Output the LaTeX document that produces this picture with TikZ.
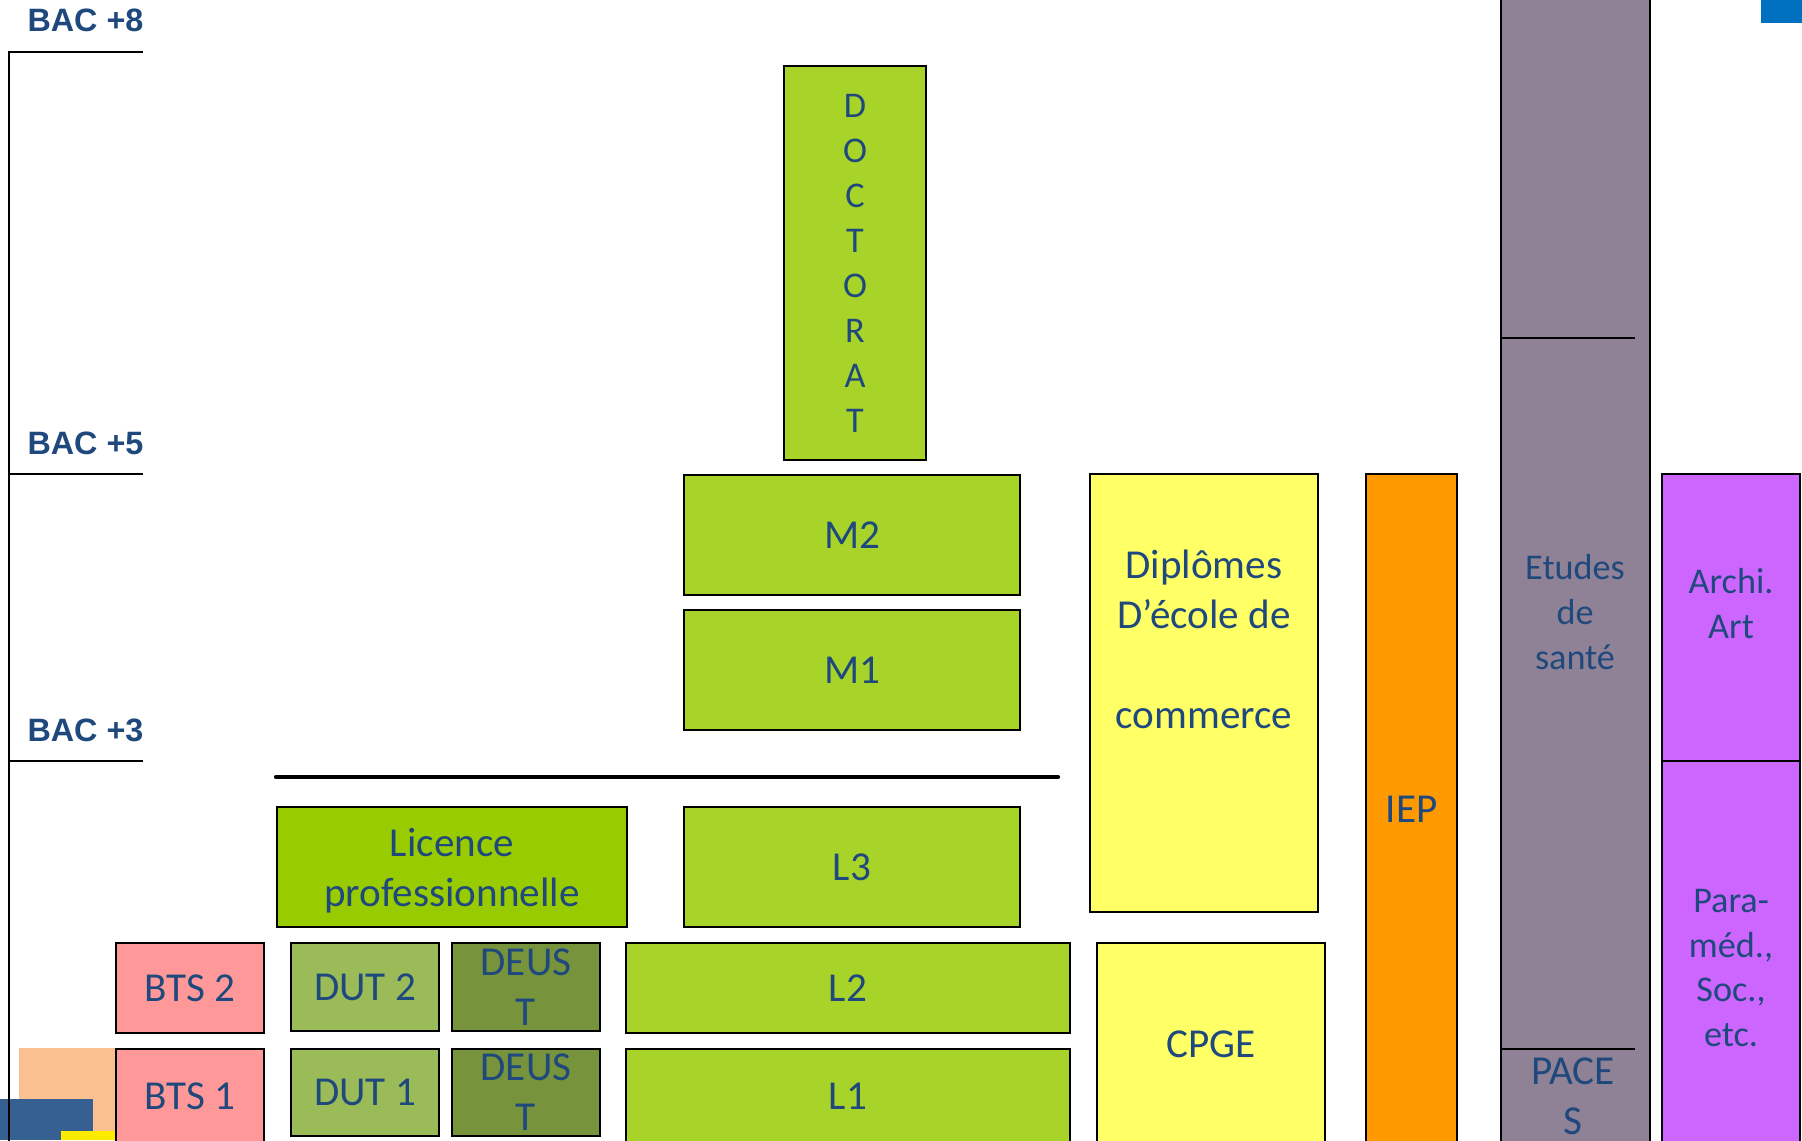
\documentclass[tikz,border=0pt]{standalone}
\usepackage{fontspec}
\setmainfont{Carlito}
\newfontfamily\axisfont{Liberation Sans}
\usetikzlibrary{positioning}

\definecolor{txtblue}{HTML}{1F497D}
\definecolor{cLime}{HTML}{A8D42A}
\definecolor{cLicence}{HTML}{99CC00}
\definecolor{cBts}{HTML}{FF9999}
\definecolor{cDut}{HTML}{9BBB59}
\definecolor{cDeust}{HTML}{77933C}
\definecolor{cEcole}{HTML}{FFFF66}
\definecolor{cIep}{HTML}{FF9900}
\definecolor{cSante}{HTML}{8F8196}
\definecolor{cArchi}{HTML}{CC66FF}
\definecolor{cBlue}{HTML}{0070C0}
\definecolor{cPeach}{HTML}{FAC090}
\definecolor{cNavy}{HTML}{376092}
\definecolor{cYellow}{HTML}{FFEB00}

\newcommand{\cellfont}{\fontsize{11.7pt}{14.2pt}\selectfont}
\newcommand{\smallcellfont}{\fontsize{10.3pt}{12.8pt}\selectfont}

\begin{document}
\begin{tikzpicture}[
    cell/.style={rectangle, draw=black, line width=0.6pt, text=txtblue, align=center, inner sep=0pt, outer sep=0pt, font=\cellfont},
    gcell/.style={cell, fill=cLime},
    lcell/.style={cell, fill=cLicence},
    bcell/.style={cell, fill=cBts},
    dcell/.style={cell, fill=cDut},
    ecell/.style={cell, fill=cDeust},
    ycell/.style={cell, fill=cEcole},
    icell/.style={cell, fill=cIep},
    scell/.style={cell, fill=cSante},
    acell/.style={cell, fill=cArchi, font=\smallcellfont},
    lab/.style={text=txtblue, align=center, inner sep=0pt, font=\smallcellfont},
    bac/.style={text=txtblue, inner sep=0pt, font=\axisfont\bfseries\fontsize{9.2pt}{11pt}\selectfont},
    rule/.style={line width=0.6pt},
  ]
  \useasboundingbox (0,0) rectangle (18.02,-11.40);

  % corner marks
  \fill[cPeach]  (0.19,-10.48) rectangle (1.16,-11.40);
  \fill[cNavy]   (0,-10.99)    rectangle (0.93,-11.40);
  \fill[cYellow] (0.61,-11.31) rectangle (1.16,-11.40);
  \fill[cBlue]   (17.61,0)     rectangle (18.02,-0.23);

  % university track
  \node[gcell, minimum width=1.42cm, minimum height=3.94cm, font=\smallcellfont] (doct) at (8.55,-2.63) {D\\O\\C\\T\\O\\R\\A\\T};
  \node[gcell, minimum width=3.36cm, minimum height=1.20cm] (m2) at (8.52,-5.35) {M2};
  \node[gcell, minimum width=3.36cm, minimum height=1.20cm, below=0.15cm of m2] (m1) {M1};
  \node[gcell, minimum width=3.36cm, minimum height=1.20cm, below=0.77cm of m1] (l3) {L3};
  \node[lcell, minimum width=3.50cm, minimum height=1.20cm, text depth=0pt] (lp) at (4.52,-8.67) {Licence\\professionnelle};
  \node[gcell, minimum width=4.44cm, minimum height=0.90cm] (l2) at (8.48,-9.88) {L2};
  \node[gcell, minimum width=4.44cm, minimum height=0.95cm, below=0.16cm of l2] (l1) {L1};

  % short courses
  \node[bcell, minimum width=1.48cm, minimum height=0.90cm] (bts2) at (1.90,-9.88) {BTS 2};
  \node[bcell, minimum width=1.48cm, minimum height=0.95cm, below=0.16cm of bts2] (bts1) {BTS 1};
  \node[dcell, minimum width=1.48cm, minimum height=0.88cm] (dut2) at (3.65,-9.87) {DUT 2};
  \node[dcell, minimum width=1.48cm, minimum height=0.87cm, below=0.18cm of dut2] (dut1) {DUT 1};
  \node[ecell, minimum width=1.48cm, minimum height=0.88cm, right=0.13cm of dut2] (deust2) {DEUS\\T};
  \node[ecell, minimum width=1.48cm, minimum height=0.87cm, below=0.18cm of deust2] (deust1) {DEUS\\T};

  % schools
  \node[ycell, minimum width=2.28cm, minimum height=4.38cm] (ecole) at (12.04,-6.93) {Diplômes\\D’école de\\[14.2pt]commerce\\\mbox{}\\[2.3pt]\mbox{}};
  \node[ycell, minimum width=2.28cm, minimum height=2.02cm] (cpge) at (12.11,-10.44) {CPGE};
  \node[icell, minimum width=0.91cm, minimum height=6.70cm] (iep) at (14.115,-8.09) {IEP};
  \node[scell, minimum width=1.49cm, minimum height=11.70cm] (sante) at (15.755,-5.70) {};
  \draw[rule] (15.01,-3.38) -- (16.35,-3.38);
  \draw[rule] (15.01,-10.49) -- (16.35,-10.49);
  \node[lab] (etudes) at (15.75,-6.12) {Etudes\\de\\santé};
  \node[lab, font=\cellfont] (paces) at (15.73,-10.96) {PACE\\S};
  \node[acell, minimum width=1.38cm, minimum height=2.87cm] (archi) at (17.31,-6.175) {Archi.\\Art\\[-5pt]\mbox{}};
  \node[acell, minimum width=1.38cm, minimum height=4.14cm, below=0cm of archi] (para) {Para-\\méd.,\\Soc.,\\etc.};

  % bac levels
  \coordinate (axtop) at (0.09,-0.52);
  \coordinate (axbot) at (0.09,-11.45);
  \coordinate (t8) at (1.43,-0.52);
  \coordinate (t5) at (1.43,-4.74);
  \coordinate (t3) at (1.43,-7.61);
  \draw[rule] (t8) -- (axtop) -- (axbot);
  \draw[rule] (axtop |- t5) -- (t5);
  \draw[rule] (axtop |- t3) -- (t3);
  \node[bac] (bac8) at (0.855,-0.20) {BAC +8};
  \node[bac] (bac5) at (0.855,-4.43) {BAC +5};
  \node[bac] (bac3) at (0.855,-7.30) {BAC +3};

  \coordinate (barl) at (2.76,-7.77);
  \coordinate (barr) at (10.58,-7.77);
  \draw[line width=1.2pt, line cap=round] (barl) -- (barr);
\end{tikzpicture}
\end{document}
